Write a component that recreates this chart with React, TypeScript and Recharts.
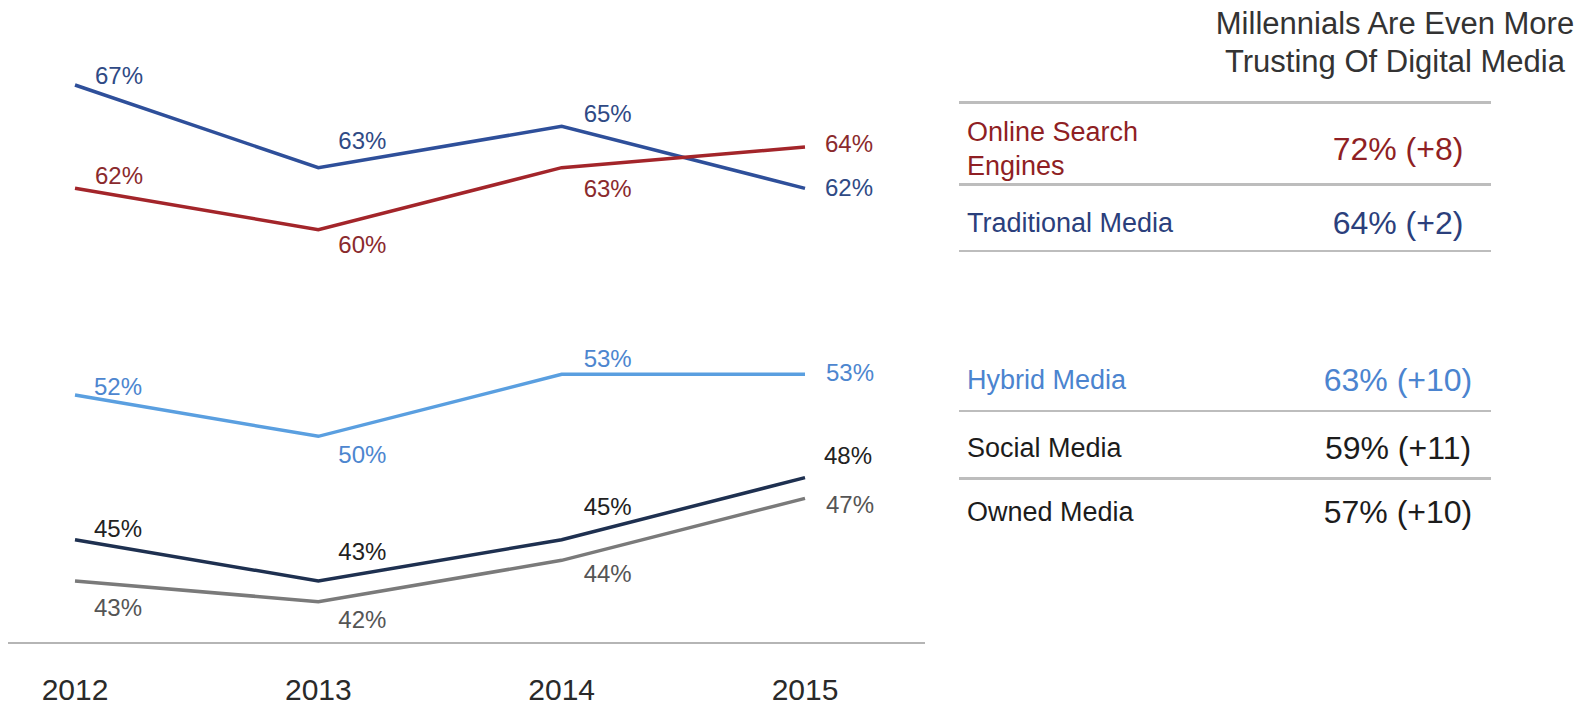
import React from "react";
import { LabelList, Line, LineChart, XAxis, YAxis } from "recharts";

const years = [2012, 2013, 2014, 2015];
const onlineSearch = [62, 60, 63, 64];
const traditional = [67, 63, 65, 62];
const hybrid = [52, 50, 53, 53];
const social = [45, 43, 45, 48];
const owned = [43, 42, 44, 47];

const mediaTypes = ["Online Search Engines", "Traditional Media", "Hybrid Media", "Social Media", "Owned Media"];
const millennialTrust = [72, 64, 63, 59, 57];
const millennialChange = [8, 2, 10, 11, 10];

const data = years.map((year, i) => ({
  year,
  onlineSearch: onlineSearch[i],
  traditional: traditional[i],
  hybrid: hybrid[i],
  social: social[i],
  owned: owned[i],
}));

const font = '"Liberation Sans", Arial, Helvetica, sans-serif';

// label placement relative to each point: [dx, dy]
const labelOffsets: Record<string, [number, number][]> = {
  traditional: [[20, -10], [20, -27], [22, -13], [20, -1]],
  onlineSearch: [[20, -13], [20, 15], [22, 21], [20, -4]],
  hybrid: [[19, -9], [20, 18], [22, -16], [21, -2]],
  social: [[19, -11], [20, -30], [22, -33], [19, -22]],
  owned: [[19, 26], [20, 18], [22, 13], [21, 6]],
};

const series = [
  { key: "traditional", stroke: "#2e4f9a", label: "#2f4a85" },
  { key: "onlineSearch", stroke: "#a3252a", label: "#8a2a2d" },
  { key: "hybrid", stroke: "#5a9fe0", label: "#4d86cf" },
  { key: "social", stroke: "#1e3050", label: "#222222" },
  { key: "owned", stroke: "#7a7a7a", label: "#555555" },
];

const rowColors = ["#8f1f24", "#2b3f7c", "#4b84cf", "#1c1c1c", "#1c1c1c"];
const rowCenters = [149, 223, 380, 448, 512];
const rules = [
  { y: 101, h: 3 },
  { y: 183, h: 3 },
  { y: 250, h: 2 },
  { y: 410, h: 2 },
  { y: 477, h: 3 },
];

function makeLabel(key: string, color: string) {
  return (props: any) => {
    const { x, y, value, index } = props;
    const [dx, dy] = labelOffsets[key][index] || [20, -10];
    return (
      <text
        x={x + dx}
        y={y + dy}
        fill={color}
        fontSize={24}
        fontFamily={font}
        dominantBaseline="central"
      >
        {value}%
      </text>
    );
  };
}

const YearTick = (props: any) => {
  const { x, y, payload } = props;
  return (
    <text x={x} y={y + 55} textAnchor="middle" fill="#2a2a2a" fontSize={30} fontFamily={font}>
      {payload.value}
    </text>
  );
};

export default function App() {
  return (
    <div style={{ position: "absolute", left: 0, top: 0, width: 1596, height: 706, background: "#fff", fontFamily: font }}>
      <LineChart width={940} height={706} data={data} margin={{ top: 23, right: 15, bottom: 0, left: 8 }}>
        <XAxis
          dataKey="year"
          type="number"
          domain={[2012, 2015]}
          ticks={years}
          padding={{ left: 67, right: 120 }}
          height={63}
          stroke="#b5b5b5"
          strokeWidth={2}
          tickLine={false}
          tickSize={0}
          tick={<YearTick />}
        />
        <YAxis hide domain={[40, 70]} />
        {series.map((s) => (
          <Line
            key={s.key}
            type="linear"
            dataKey={s.key}
            stroke={s.stroke}
            strokeWidth={3.5}
            dot={false}
            activeDot={false}
            isAnimationActive={false}
          >
            <LabelList dataKey={s.key} content={makeLabel(s.key, s.label)} />
          </Line>
        ))}
      </LineChart>

      <div
        style={{
          position: "absolute",
          left: 1145,
          top: 5,
          width: 500,
          textAlign: "center",
          fontSize: 31,
          lineHeight: "38px",
          color: "#333",
        }}
      >
        Millennials Are Even More
        <br />
        Trusting Of Digital Media
      </div>

      {rules.map((r, i) => (
        <div
          key={i}
          style={{ position: "absolute", left: 959, top: r.y, width: 532, height: r.h, background: "#bdbdbd" }}
        />
      ))}

      {mediaTypes.map((name, i) => (
        <React.Fragment key={name}>
          <div
            style={{
              position: "absolute",
              left: 967,
              top: rowCenters[i] - 40,
              height: 80,
              width: 240,
              display: "flex",
              alignItems: "center",
              fontSize: 27,
              lineHeight: "34px",
              color: rowColors[i],
            }}
          >
            {name}
          </div>
          <div
            style={{
              position: "absolute",
              left: 1248,
              top: rowCenters[i] - 20,
              width: 300,
              height: 40,
              lineHeight: "40px",
              textAlign: "center",
              fontSize: 32,
              color: rowColors[i],
            }}
          >
            {millennialTrust[i]}% (+{millennialChange[i]})
          </div>
        </React.Fragment>
      ))}
    </div>
  );
}
